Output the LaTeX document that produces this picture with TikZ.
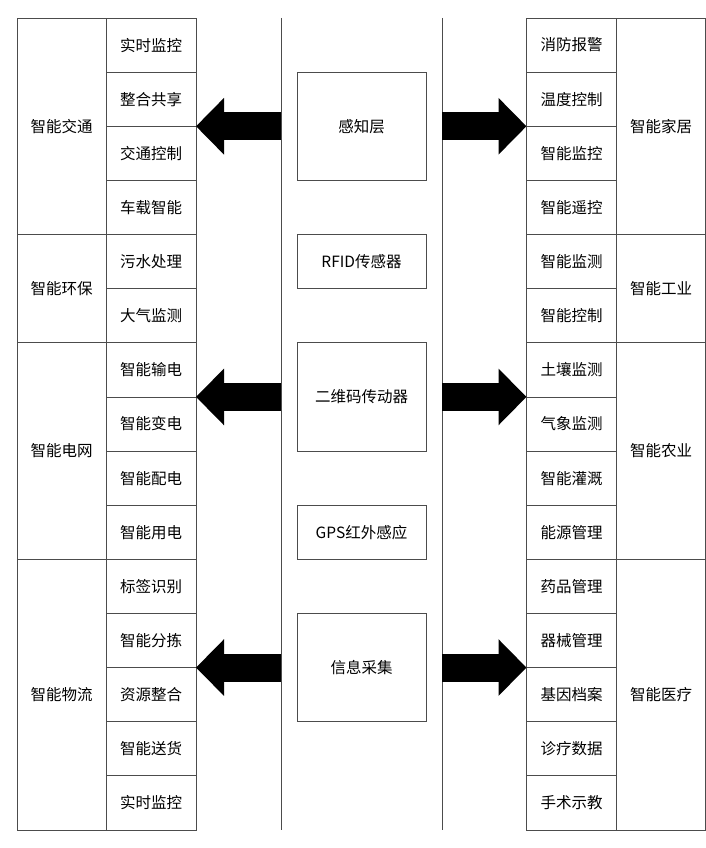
\documentclass[tikz,border=0pt]{standalone}
\usepackage{fontspec}
\setmainfont{Noto Sans CJK SC}
\usetikzlibrary{arrows.meta,positioning,calc}

\begin{document}
\begin{tikzpicture}[x=1pt, y=1pt, node distance=54.13pt, line width=0.8pt]

	\useasboundingbox (0,0) rectangle (706,-848);

%====Definizione stili================================================

	\tikzstyle{cella}=[draw=black!70, minimum width=90pt, minimum height=54.13pt, inner sep=0pt, outer sep=0pt, font=\fontsize{15.5}{18}\selectfont]
	\tikzstyle{gruppo}=[cella, minimum width=89pt]
	\tikzstyle{centro}=[cella, minimum width=129pt]
	\tikzstyle{freccia}=[draw=black, line width=28pt, -{Triangle[length=28pt, width=55pt]}]

%====Colonna sinistra===========================================
	\node[cella] 	(S1) at (151,-45.07)	{实时监控};
	\node[cella]	(S2) [below of=S1]	{整合共享};
	\node[cella]	(S3) [below of=S2]	{交通控制};
	\node[cella]	(S4) [below of=S3]	{车载智能};
	\node[cella]	(S5) [below of=S4]	{污水处理};
	\node[cella]	(S6) [below of=S5]	{大气监测};
	\node[cella]	(S7) [below of=S6]	{智能输电};
	\node[cella]	(S8) [below of=S7]	{智能变电};
	\node[cella]	(S9) [below of=S8]	{智能配电};
	\node[cella]	(S10) [below of=S9]	{智能用电};
	\node[cella]	(S11) [below of=S10]	{标签识别};
	\node[cella]	(S12) [below of=S11]	{智能分拣};
	\node[cella]	(S13) [below of=S12]	{资源整合};
	\node[cella]	(S14) [below of=S13]	{智能送货};
	\node[cella]	(S15) [below of=S14]	{实时监控};

	\node[gruppo, minimum height=216.52pt, anchor=north east]	(GS1) at (S1.north west)	{智能交通};
	\node[gruppo, minimum height=108.26pt, anchor=north east]	(GS2) at (S5.north west)	{智能环保};
	\node[gruppo, minimum height=216.52pt, anchor=north east]	(GS3) at (S7.north west)	{智能电网};
	\node[gruppo, minimum height=270.65pt, anchor=north east]	(GS4) at (S11.north west)	{智能物流};

%====Colonna destra===========================================
	\node[cella] 	(D1) at (571.5,-45.07)	{消防报警};
	\node[cella]	(D2) [below of=D1]	{温度控制};
	\node[cella]	(D3) [below of=D2]	{智能监控};
	\node[cella]	(D4) [below of=D3]	{智能遥控};
	\node[cella]	(D5) [below of=D4]	{智能监测};
	\node[cella]	(D6) [below of=D5]	{智能控制};
	\node[cella]	(D7) [below of=D6]	{土壤监测};
	\node[cella]	(D8) [below of=D7]	{气象监测};
	\node[cella]	(D9) [below of=D8]	{智能灌溉};
	\node[cella]	(D10) [below of=D9]	{能源管理};
	\node[cella]	(D11) [below of=D10]	{药品管理};
	\node[cella]	(D12) [below of=D11]	{器械管理};
	\node[cella]	(D13) [below of=D12]	{基因档案};
	\node[cella]	(D14) [below of=D13]	{诊疗数据};
	\node[cella]	(D15) [below of=D14]	{手术示教};

	\node[gruppo, minimum height=216.52pt, anchor=north west]	(GD1) at (D1.north east)	{智能家居};
	\node[gruppo, minimum height=108.26pt, anchor=north west]	(GD2) at (D5.north east)	{智能工业};
	\node[gruppo, minimum height=216.52pt, anchor=north west]	(GD3) at (D7.north east)	{智能农业};
	\node[gruppo, minimum height=270.65pt, anchor=north west]	(GD4) at (D11.north east)	{智能医疗};

%====Colonna centrale===========================================
	\node[centro, minimum height=108.26pt]	(C1) at (361.5,-126.26)	{感知层};
	\node[centro]				(C2) at (361.5,-261.59)	{RFID传感器};
	\node[centro, minimum height=108.26pt]	(C3) at (361.5,-396.91)	{二维码传动器};
	\node[centro]				(C4) at (361.5,-532.24)	{GPS红外感应};
	\node[centro, minimum height=108.26pt]	(C5) at (361.5,-667.56)	{信息采集};

	\coordinate (LS) at (281,-18);	\coordinate (LSb) at (281,-830);
	\coordinate (LD) at (442,-18);	\coordinate (LDb) at (442,-830);
	\draw[black!70] (LS) -- (LSb);
	\draw[black!70] (LD) -- (LDb);

%====Frecce================================================================
		%from			stile		to
	\path	(S2.south east -| LS)	edge[freccia]	(S2.south east)
		(S7.south east -| LS)	edge[freccia]	(S7.south east)
		(S12.south east -| LS)	edge[freccia]	(S12.south east)
		(D2.south west -| LD)	edge[freccia]	(D2.south west)
		(D7.south west -| LD)	edge[freccia]	(D7.south west)
		(D12.south west -| LD)	edge[freccia]	(D12.south west);
\end{tikzpicture}
\end{document}
